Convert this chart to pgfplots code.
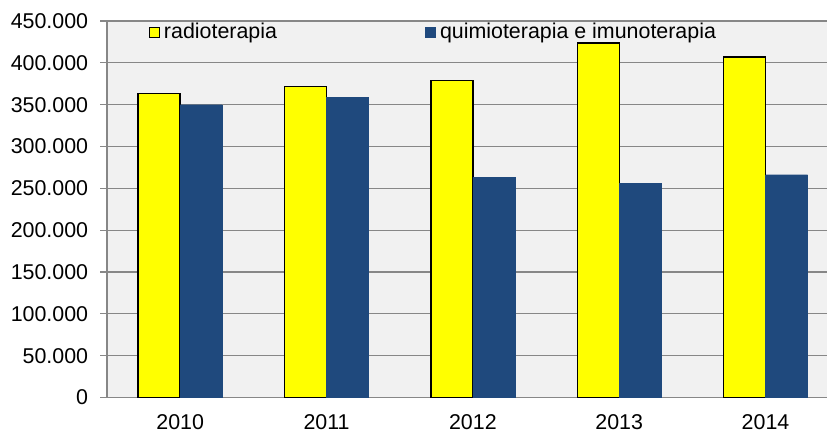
\documentclass[border=0pt]{standalone}
\usepackage{fontspec}
\setmainfont{Liberation Sans}
\usepackage{pgfplots}
\pgfplotsset{compat=1.18}

\definecolor{barYellow}{HTML}{FFFF00}
\definecolor{barBlue}{HTML}{1F497D}
\definecolor{plotBg}{HTML}{F1F1F1}
\definecolor{gridGray}{HTML}{878787}

\pgfplotsset{
    squareleg/.style={legend image code/.code={\draw[##1,line width=0.5pt] (0pt,-2.5pt) rectangle (5pt,2.5pt);}},
}

\begin{document}
\begin{tikzpicture}
\begin{axis}[
    name=ax,
    scale only axis,
    width=360pt, height=188.25pt,
    ybar=0pt, bar width=21pt,
    xmin=-0.5, xmax=4.42,
    ymin=0, ymax=450000,
    xtick={0,1,2,3,4},
    xticklabels={2010,2011,2012,2013,2014},
    ytick={0,50000,...,450000},
    scaled y ticks=false,
    /pgf/number format/.cd, fixed, 1000 sep={.}, assume math mode=true,
    /pgfplots/.cd,
    axis lines=left,
    axis line style={-, draw=gridGray, line width=0.6pt},
    ymajorgrids, grid style={gridGray, line width=0.6pt},
    tick align=outside,
    major tick length=3.5pt,
    ytick style={gridGray, line width=0.6pt},
    xtick style={draw=none},
    axis background/.style={fill=plotBg},
    tick label style={font=\fontsize{10.7}{12.8}\selectfont, text=black},
    yticklabel style={xshift=-2.4pt},
    xticklabel style={yshift=-1.7pt},
    legend columns=2,
    legend style={at={(0.055,1.012)}, anchor=north west, draw=none, fill=none,
        font=\fontsize{10.7}{12.8}\selectfont, inner sep=1pt,
        /tikz/every even column/.append style={column sep=72pt}},
]
\addplot[fill=barYellow, draw=black, line width=0.7pt, squareleg]
    coordinates {(0,363000) (1,372000) (2,379000) (3,423500) (4,406800)};
\addplot[fill=barBlue, draw=barBlue, line width=0.1pt, squareleg]
    coordinates {(0,350000) (1,359000) (2,263500) (3,256000) (4,266400)};
\legend{radioterapia, quimioterapia e imunoterapia}
\end{axis}
\pgfresetboundingbox
\path ([shift={(-53.5pt,-17.25pt)}]ax.south west) rectangle ([shift={(0pt,10.5pt)}]ax.north east);
\end{tikzpicture}
\end{document}
